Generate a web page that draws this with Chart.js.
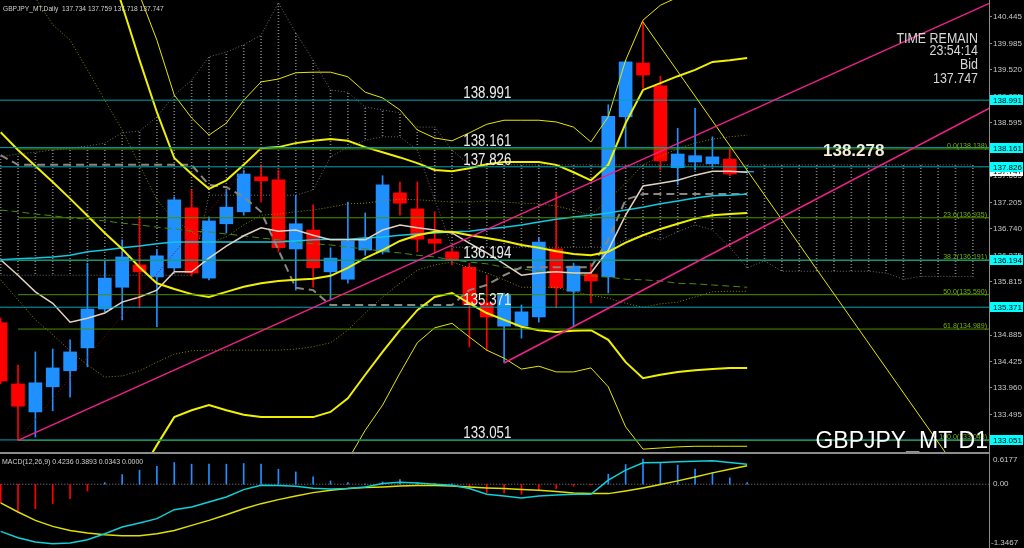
<!DOCTYPE html>
<html>
<head>
<meta charset="utf-8">
<script src="https://cdn.jsdelivr.net/npm/chart.js@4.4.1/dist/chart.umd.min.js"></script>
<style>
html, body { margin: 0; padding: 0; background: #000; width: 1024px; height: 548px; overflow: hidden; }
#main { position: absolute; left: 0; top: 0; }
#macd { position: absolute; left: 0; top: 455px; }
#sep { position: absolute; left: 0; top: 452px; width: 990px; height: 2px; background: #8c8c8c; }
#sep2 { position: absolute; left: 989px; top: 452px; width: 1px; height: 4px; background: #8c8c8c; }
</style>
</head>
<body>
<canvas id="main" width="1024" height="452"></canvas>
<div id="sep"></div><div id="sep2"></div>
<canvas id="macd" width="1024" height="93"></canvas>
<script>
// daily candles, GBPJPY
const OPEN  = [135.10,134.03,133.54,133.98,134.26,134.66,135.34,135.72,136.11,135.90,136.06,137.11,135.88,136.83,137.04,137.65,137.60,136.39,136.72,135.99,135.86,136.37,136.34,137.37,137.09,136.56,136.34,136.07,135.45,135.04,135.04,135.20,136.39,135.65,135.95,135.90,138.70,139.64,139.24,137.81,137.91,137.88,137.96,137.734];
const HIGH  = [135.18,134.36,134.59,134.64,134.80,136.14,136.16,136.55,136.93,136.37,137.30,137.42,136.95,137.42,137.77,137.86,137.77,137.33,137.16,136.41,137.21,137.02,137.67,137.56,137.56,137.04,136.41,136.14,135.93,135.62,135.41,136.58,137.37,136.14,136.14,138.91,139.69,140.36,139.41,138.50,138.85,138.35,138.14,137.759];
const LOW   = [134.03,133.043,133.10,133.56,133.80,134.33,135.29,135.15,135.36,135.03,136.02,135.92,135.85,136.67,136.98,137.21,136.34,135.67,135.72,135.50,135.79,136.28,136.30,136.98,136.34,136.32,136.11,134.68,134.62,134.40,134.83,135.11,135.36,135.03,135.45,135.62,138.16,139.20,137.77,137.51,137.77,137.82,137.67,137.718];
const CLOSE = [134.08,133.64,134.05,134.31,134.59,135.34,135.88,136.25,135.99,136.27,137.25,135.97,136.88,137.12,137.70,137.58,136.41,136.83,136.06,136.23,136.53,136.58,137.51,137.19,136.56,136.49,136.20,135.41,135.20,135.59,135.29,136.51,135.71,136.09,135.83,138.71,139.66,139.43,137.93,138.05,138.02,138.00,137.70,137.747];

// bollinger bands (1, 2, 3 sigma)
const BB_MID = [138.43,138.12,137.84,137.56,137.27,136.97,136.67,136.39,136.07,135.79,135.69,135.60,135.55,135.64,135.73,135.79,135.83,135.85,135.87,135.92,136.06,136.23,136.37,136.53,136.63,136.69,136.69,136.63,136.58,136.53,136.46,136.41,136.35,136.30,136.28,136.34,136.50,136.63,136.74,136.83,136.92,136.98,137.00,137.02];
const BB_UP2 = [144.38,144.06,143.78,143.50,143.03,142.39,141.56,140.65,139.69,138.78,137.98,137.70,137.44,137.59,137.86,138.15,138.17,138.24,138.28,138.31,138.28,138.17,138.08,137.99,137.89,137.77,137.75,137.80,137.87,137.91,137.91,137.91,137.86,137.73,137.59,137.86,138.59,139.17,139.29,139.41,139.52,139.66,139.69,139.73];
const BB_LO2 = [132.49,132.17,131.89,131.62,131.49,131.55,131.77,132.12,132.45,132.96,133.45,133.57,133.66,133.57,133.49,133.45,133.45,133.45,133.45,133.54,133.78,134.19,134.59,134.97,135.32,135.55,135.62,135.44,135.27,135.15,135.03,134.97,134.94,134.96,134.97,134.80,134.41,134.13,134.19,134.24,134.27,134.29,134.31,134.31];
const BB_UP3 = [145.99,145.55,145.11,144.68,144.06,143.36,142.75,141.88,140.83,140.04,139.08,138.68,138.38,138.59,138.99,139.31,139.36,139.47,139.48,139.48,139.40,139.13,139.03,138.82,138.47,138.33,138.28,138.42,138.57,138.64,138.64,138.64,138.61,138.52,138.26,138.70,139.69,140.39,140.65,140.79,140.92,141.06,141.09,141.09];
const BB_LO3 = [129.52,129.20,128.92,128.64,128.61,128.84,129.32,129.99,130.65,131.55,132.33,132.56,132.72,132.54,132.37,132.28,132.26,132.25,132.25,132.35,132.70,133.22,133.66,134.22,134.75,135.01,135.09,134.85,134.62,134.48,134.29,134.34,134.24,134.24,134.31,133.98,133.28,132.89,132.91,132.93,132.94,132.94,132.94,132.94];
const BB_UP1 = [141.44,141.09,140.78,140.31,140.04,139.52,138.99,138.47,137.86,137.25,136.90,136.69,136.49,136.60,136.81,136.98,137.00,137.04,137.07,137.12,137.18,137.19,137.23,137.26,137.25,137.23,137.21,137.21,137.23,137.21,137.19,137.18,137.14,137.07,136.98,137.25,137.54,137.86,138.01,138.14,138.24,138.31,138.35,138.38];
const BB_LO1 = [135.85,135.50,135.15,134.89,134.61,134.36,134.15,134.17,134.26,134.41,134.55,134.61,134.62,134.62,134.62,134.62,134.62,134.64,134.68,134.75,134.97,135.27,135.55,135.79,136.02,136.11,136.16,136.06,135.97,135.85,135.72,135.72,135.72,135.64,135.58,135.53,135.44,135.37,135.43,135.46,135.55,135.64,135.65,135.65];

// moving averages
const MA_FAST = [136.20,136.22,136.23,136.25,136.28,136.34,136.37,136.41,136.44,136.48,136.51,136.51,136.51,136.51,136.51,136.51,136.51,136.53,136.55,136.56,136.56,136.58,136.60,136.63,136.65,136.67,136.69,136.70,136.74,136.77,136.81,136.86,136.91,136.95,136.98,137.02,137.07,137.12,137.18,137.23,137.28,137.32,137.33,137.35];
const MA_SLOW = [137.07,137.04,137.00,136.97,136.93,136.91,136.88,136.84,136.81,136.77,136.74,136.70,136.69,136.65,136.62,136.58,136.55,136.51,136.48,136.46,136.42,136.39,136.35,136.32,136.28,136.25,136.20,136.16,136.13,136.07,136.04,136.00,135.99,135.95,135.92,135.90,135.86,135.85,135.83,135.79,135.78,135.76,135.74,135.72];

// ichimoku
const TENKAN = [136.20,135.93,135.64,135.44,135.11,135.18,135.27,135.46,135.55,135.67,135.99,135.99,136.23,136.44,136.62,136.76,136.70,136.72,136.63,136.55,136.55,136.55,136.72,136.81,136.76,136.72,136.67,136.49,136.32,136.13,135.93,135.97,135.99,135.97,135.97,136.37,136.98,137.49,137.54,137.59,137.68,137.75,137.75,137.73];
const KIJUN = [138.03,137.86,137.86,137.86,137.86,137.86,137.86,137.86,137.86,137.86,137.86,137.86,137.51,137.47,137.30,137.04,136.37,135.71,135.67,135.41,135.41,135.41,135.41,135.41,135.41,135.41,135.41,135.67,135.76,135.93,136.07,136.07,136.07,136.07,136.07,136.55,137.25,137.35,137.35,137.35,137.35,137.35,137.35,137.35];
const SPAN_A = [138.00,138.05,138.08,138.12,138.15,138.19,138.24,138.42,138.45,138.70,139.08,139.34,139.75,139.83,139.96,140.13,140.69,140.17,139.69,139.17,139.13,138.87,138.82,138.77,138.52,138.52,138.12,
  137.86,137.86,137.86,137.86,137.86,137.86,137.86,137.86,137.86,137.86,137.86,137.86,137.86,137.86,137.86,137.86,137.86,137.86,137.86,137.86,137.86,137.86,137.86,137.86,137.86,137.86,137.86,137.86,137.86,137.86];
const SPAN_B = [135.93,135.93,135.93,135.93,135.93,135.93,135.93,135.93,135.93,135.93,135.93,135.93,137.33,137.33,137.33,137.33,137.33,137.33,137.42,138.00,138.17,138.29,138.35,138.35,138.12,137.25,
  136.42,136.42,136.42,136.42,136.42,136.42,136.42,136.42,136.42,136.42,136.55,136.63,136.55,136.69,136.81,136.72,136.42,136.06,136.18,136.00,136.00,136.00,136.00,136.00,136.00,135.97,135.86,135.91,135.91,135.91,135.91];

// drawn objects
const LEVELS = [138.991, 138.161, 137.826, 136.194, 135.371, 133.051];
const FIB_PCT = ['0.0', '23.6', '38.2', '50.0', '61.8', '100.0'];
const FIB_VAL = [138.138, 136.935, 136.191, 135.590, 134.989, 133.043];
const CHANNEL_LOW = [[1, 133.043], [57, 140.69]];
const CHANNEL_UP = [[29, 134.396], [57, 138.86]];
const FALL_LINE = [[37, 140.357], [55, 132.58]];
const FIB_LINE = [[1, 133.043], [15, 138.138]];
const MARK_PRICE = 138.278;
const BID = 137.747;
const AXIS_TICKS = [140.445,139.985,139.520,139.055,138.595,138.130,137.665,137.205,136.740,136.275,135.815,135.350,134.885,134.425,133.960,133.495,133.035];

// MACD(12,26,9)
const MACD_HIST = [-0.388,-0.565,-0.516,-0.410,-0.304,-0.141,0.035,0.205,0.297,0.381,0.459,0.424,0.424,0.424,0.438,0.424,0.318,0.261,0.155,0.071,0.035,0.007,0.049,0.099,0.035,0.014,0.007,-0.092,-0.184,-0.184,-0.212,-0.113,-0.092,-0.042,-0.014,0.212,0.417,0.530,0.459,0.403,0.318,0.247,0.134,0.0343];
const MACD_MAIN = [-0.996,-1.130,-1.222,-1.257,-1.243,-1.172,-1.045,-0.904,-0.819,-0.727,-0.537,-0.480,-0.374,-0.268,-0.113,-0.021,-0.028,-0.042,-0.085,-0.099,-0.092,-0.056,0.014,0.042,0.028,0.000,-0.021,-0.092,-0.212,-0.247,-0.290,-0.247,-0.226,-0.212,-0.212,0.085,0.297,0.452,0.459,0.473,0.487,0.494,0.459,0.4236];
const MACD_SIGNAL = [-0.395,-0.586,-0.763,-0.890,-0.975,-1.031,-1.067,-1.088,-1.088,-1.045,-0.975,-0.869,-0.763,-0.643,-0.516,-0.410,-0.325,-0.247,-0.177,-0.127,-0.092,-0.071,-0.056,-0.035,-0.028,-0.028,-0.035,-0.056,-0.078,-0.092,-0.113,-0.127,-0.155,-0.184,-0.198,-0.198,-0.141,-0.078,-0.007,0.071,0.155,0.240,0.318,0.3893];
const MACD_MAX = 0.6177, MACD_MIN = -1.3467;

const X_MIN = -0.037, X_MAX = 56.93;
const P_MIN = 132.84, P_MAX = 140.742;

const BULL = '#1e90ff', BEAR = '#ff0000';
const SANS = '"Liberation Sans", Arial, sans-serif';

function dotPattern(color) {
  const c = document.createElement('canvas');
  c.width = 1; c.height = 3;
  const g = c.getContext('2d');
  g.fillStyle = color;
  g.fillRect(0, 0, 1, 1);
  return g.createPattern(c, 'repeat');
}

// narrow text: no condensed face installed, so squeeze horizontally
function squeezed(ctx, text, x, y, sx) {
  ctx.save();
  ctx.translate(x, y);
  ctx.scale(sx, 1);
  ctx.fillText(text, 0, 0);
  ctx.restore();
}

function series(arr, color, width, dash, order) {
  return {
    type: 'line', data: arr.map((v, i) => ({x: i, y: v})),
    borderColor: color, borderWidth: width, borderDash: dash || [],
    pointRadius: 0, tension: 0, fill: false, order: order || 5
  };
}

function segment(pts, color, width, dash, order) {
  return {
    type: 'line', data: pts.map(p => ({x: p[0], y: p[1]})),
    borderColor: color, borderWidth: width, borderDash: dash || [],
    pointRadius: 0, tension: 0, fill: false, order: order || 2
  };
}

function yAxisFit(s) { s.width = 35; s.paddingTop = 0; s.paddingBottom = 0; }

const candleColor = CLOSE.map((c, i) => c >= OPEN[i] ? BULL : BEAR);

const datasets = [
  // kumo hatch
  { type: 'bar', data: SPAN_A.map((a, i) => ({x: i, y: [a, SPAN_B[i]]})),
    backgroundColor: dotPattern('#7a7a7a'), barThickness: 1, grouped: false, order: 40 },
  series(SPAN_A, '#6e6e6e', 1, [1, 2], 35),
  series(SPAN_B, '#6e6e6e', 1, [1, 2], 35),
  // candles
  { type: 'bar', data: CLOSE.map((c, i) => ({x: i, y: [LOW[i], HIGH[i]]})),
    backgroundColor: candleColor, barThickness: 1, grouped: false, order: 21 },
  { type: 'bar', data: CLOSE.map((c, i) => ({x: i, y: [OPEN[i], c]})),
    backgroundColor: candleColor, barThickness: 13, grouped: false, order: 20 },
  // indicators
  series(BB_UP1, '#8a8a00', 1, [1, 2], 8),
  series(BB_LO1, '#8a8a00', 1, [1, 2], 8),
  series(MA_SLOW, '#4a8a10', 1, [7, 4], 7),
  series(MA_FAST, '#10c8e0', 1.5, [], 6),
  series(KIJUN, '#8c8680', 2, [8, 5], 6),
  series(TENKAN, '#e2d2c0', 1.5, [], 5),
  series(BB_UP3, '#e6e600', 1, [], 4),
  series(BB_LO3, '#e6e600', 1, [], 4),
  series(BB_MID, '#f0f000', 2, [], 4),
  series(BB_UP2, '#f0f000', 2, [], 4),
  series(BB_LO2, '#f0f000', 2, [], 4),
  // objects
  ...LEVELS.map(v => segment([[-1, v], [60, v]], '#00a6ae', 1, [], 3)),
  ...FIB_VAL.map(v => segment([[1, v], [60, v]], '#4c9000', 1, [], 3)),
  segment(FIB_LINE, '#a00000', 1, [1, 2], 3),
  segment(CHANNEL_LOW, '#f0208c', 1.5, [], 1),
  segment(CHANNEL_UP, '#f0208c', 1.5, [], 1),
  segment(FALL_LINE, '#e6e600', 1, [], 1)
];

const mainOverlay = {
  id: 'mainOverlay',
  afterDatasetsDraw(chart) {
    const ctx = chart.ctx, y = chart.scales.y, x = chart.scales.x;
    const area = chart.chartArea;
    ctx.save();
    ctx.textBaseline = 'alphabetic';
    // header
    ctx.fillStyle = '#d0d0d0';
    ctx.font = '8px ' + SANS;
    ctx.textAlign = 'left';
    squeezed(ctx, 'GBPJPY_MT,Daily  137.734 137.759 137.718 137.747', 3, 11, 0.83);
    // level labels
    ctx.font = '16px ' + SANS;
    ctx.fillStyle = '#eeeeee';
    LEVELS.forEach(v => squeezed(ctx, v.toFixed(3), x.getPixelForValue(26.65), y.getPixelForValue(v) - 2, 0.83));
    // fib labels
    ctx.font = '8px ' + SANS;
    ctx.fillStyle = '#78b400';
    ctx.textAlign = 'right';
    FIB_VAL.forEach((v, i) => squeezed(ctx, FIB_PCT[i] + '(' + v.toFixed(3) + ')', area.right - 2, y.getPixelForValue(v) - 1, 0.88));
    // marked price
    ctx.font = 'bold 17px ' + SANS;
    ctx.fillStyle = '#f2ecd8';
    ctx.textAlign = 'left';
    ctx.fillText(MARK_PRICE.toFixed(3), 823, y.getPixelForValue(MARK_PRICE) + 15);
    // time remain block
    ctx.font = '15px ' + SANS;
    ctx.fillStyle = '#d8d8d8';
    ctx.textAlign = 'right';
    squeezed(ctx, 'TIME REMAIN', 978, 43, 0.83);
    squeezed(ctx, '23:54:14', 978, 55, 0.83);
    squeezed(ctx, 'Bid', 978, 69, 0.83);
    squeezed(ctx, BID.toFixed(3), 978, 83, 0.83);
    // symbol
    ctx.font = '23px ' + SANS;
    ctx.fillStyle = '#ffffff';
    ctx.fillText('GBPJPY_MT D1', 988, 448);
    ctx.restore();
  },
  afterDraw(chart) {
    const ctx = chart.ctx, y = chart.scales.y;
    ctx.save();
    ctx.font = '8px ' + SANS;
    ctx.textAlign = 'left';
    ctx.textBaseline = 'middle';
    const box = (v, bg) => {
      const py = Math.round(y.getPixelForValue(v));
      ctx.fillStyle = bg;
      ctx.fillRect(990, py - 5, 33, 10);
      ctx.fillStyle = '#000';
      ctx.fillText(v.toFixed(3), 993, py + 0.5);
    };
    box(BID, '#ffffff');
    LEVELS.forEach(v => box(v, '#00ffff'));
    ctx.restore();
  }
};

new Chart(document.getElementById('main'), {
  type: 'bar',
  data: { datasets },
  options: {
    responsive: false, animation: false, devicePixelRatio: 1, events: [],
    layout: { padding: 0 },
    plugins: { legend: { display: false }, tooltip: { enabled: false } },
    scales: {
      x: { type: 'linear', min: X_MIN, max: X_MAX, offset: false, display: false },
      y: {
        position: 'right', min: P_MIN, max: P_MAX,
        afterBuildTicks: s => { s.ticks = AXIS_TICKS.map(v => ({value: v})); },
        afterFit: yAxisFit,
        ticks: { color: '#c8c8c8', font: { family: SANS, size: 8 }, padding: 1, callback: v => v.toFixed(3) },
        grid: { display: true, drawOnChartArea: false, drawTicks: true, tickLength: 3, color: '#8c8c8c' },
        border: { display: true, color: '#8c8c8c' }
      }
    }
  },
  plugins: [mainOverlay]
});

const macdOverlay = {
  id: 'macdOverlay',
  afterDraw(chart) {
    const ctx = chart.ctx, y = chart.scales.y;
    ctx.save();
    ctx.font = '8px ' + SANS;
    ctx.fillStyle = '#d0d0d0';
    ctx.textBaseline = 'middle';
    ctx.textAlign = 'left';
    squeezed(ctx, 'MACD(12,26,9) ' + MACD_MAIN[MACD_MAIN.length - 1].toFixed(4) + ' ' +
      MACD_SIGNAL[MACD_SIGNAL.length - 1].toFixed(4) + ' ' + MACD_HIST[MACD_HIST.length - 1].toFixed(4) + ' 0.0000', 2, 7, 0.87);
    ctx.fillStyle = '#c8c8c8';
    ctx.fillText(MACD_MAX.toFixed(4), 993, y.getPixelForValue(MACD_MAX) + 5);
    ctx.fillText('0.00', 993, y.getPixelForValue(0));
    ctx.fillText(MACD_MIN.toFixed(4), 991, y.getPixelForValue(MACD_MIN) - 5);
    ctx.restore();
  }
};

new Chart(document.getElementById('macd'), {
  type: 'bar',
  data: {
    datasets: [
      segment([[-1, 0], [60, 0]], '#8c8c8c', 1, [1, 2], 10),
      { type: 'bar', data: MACD_HIST.map((v, i) => ({x: i, y: v})),
        backgroundColor: MACD_HIST.map(v => v >= 0 ? BULL : BEAR), barThickness: 1, grouped: false, order: 5 },
      series(MACD_SIGNAL, '#e0e000', 1.5, [], 2),
      series(MACD_MAIN, '#10d0d8', 1.5, [], 1)
    ]
  },
  options: {
    responsive: false, animation: false, devicePixelRatio: 1, events: [],
    layout: { padding: 0 },
    plugins: { legend: { display: false }, tooltip: { enabled: false } },
    scales: {
      x: { type: 'linear', min: X_MIN, max: X_MAX, offset: false, display: false },
      y: {
        position: 'right', min: MACD_MIN, max: MACD_MAX,
        afterFit: yAxisFit,
        ticks: { display: false },
        grid: { display: false },
        border: { display: true, color: '#8c8c8c' }
      }
    }
  },
  plugins: [macdOverlay]
});
</script>
</body>
</html>
